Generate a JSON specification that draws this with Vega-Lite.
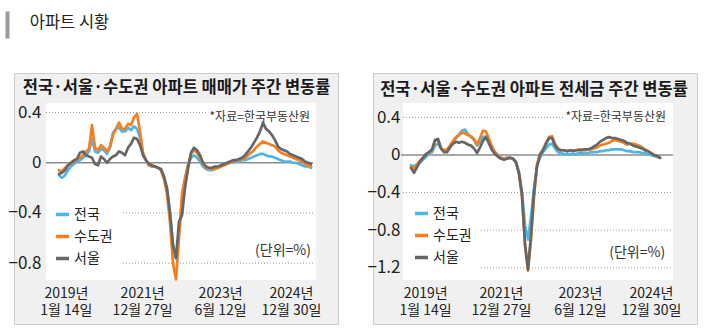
{
  "$schema": "https://vega.github.io/schema/vega-lite/v6.json",
  "background": "white",
  "padding": {"left": 7, "top": 11, "right": 4, "bottom": 4},
  "bounds": "flush",
  "spacing": 35,
  "resolve": {"scale": {"x": "independent", "y": "independent", "color": "independent"}},
  "config": {"view": {"stroke": null}, "axis": {"grid": false, "ticks": false, "domain": false, "labelFont": "Liberation Sans Narrow, Noto Sans CJK KR", "labelColor": "#222222", "labelFlush": false, "labelOverlap": false}},
  "datasets": {
    "p1": [
      {"i":0,"전국":-0.10,"수도권":-0.06,"서울":-0.09},
      {"i":1,"전국":-0.12,"수도권":-0.07,"서울":-0.08},
      {"i":2,"전국":-0.10,"수도권":-0.04,"서울":-0.06},
      {"i":3,"전국":-0.06,"수도권":-0.02,"서울":-0.02},
      {"i":4,"전국":-0.03,"수도권":-0.01,"서울":0.00},
      {"i":5,"전국":-0.01,"수도권":0.01,"서울":0.02},
      {"i":6,"전국":0.01,"수도권":0.03,"서울":0.03},
      {"i":7,"전국":0.02,"수도권":0.04,"서울":0.08},
      {"i":8,"전국":0.04,"수도권":0.06,"서울":0.09},
      {"i":9,"전국":0.06,"수도권":0.09,"서울":0.06},
      {"i":10,"전국":0.09,"수도권":0.11,"서울":0.05},
      {"i":11,"전국":0.19,"수도권":0.30,"서울":0.04},
      {"i":12,"전국":0.09,"수도권":0.12,"서울":-0.01},
      {"i":13,"전국":0.08,"수도권":0.10,"서울":-0.02},
      {"i":14,"전국":0.11,"수도권":0.14,"서울":0.05},
      {"i":15,"전국":0.10,"수도권":0.12,"서울":0.03},
      {"i":16,"전국":0.07,"수도권":0.09,"서울":0.00},
      {"i":17,"전국":0.12,"수도권":0.13,"서울":0.03},
      {"i":18,"전국":0.24,"수도권":0.22,"서울":0.05},
      {"i":19,"전국":0.27,"수도권":0.27,"서울":0.06},
      {"i":20,"전국":0.28,"수도권":0.32,"서울":0.09},
      {"i":21,"전국":0.25,"수도권":0.27,"서울":0.08},
      {"i":22,"전국":0.25,"수도권":0.27,"서울":0.06},
      {"i":23,"전국":0.28,"수도권":0.31,"서울":0.12},
      {"i":24,"전국":0.26,"수도권":0.30,"서울":0.15},
      {"i":25,"전국":0.29,"수도권":0.36,"서울":0.20},
      {"i":26,"전국":0.27,"수도권":0.39,"서울":0.19},
      {"i":27,"전국":0.20,"수도권":0.25,"서울":0.14},
      {"i":28,"전국":0.07,"수도권":0.08,"서울":0.06},
      {"i":29,"전국":0.02,"수도권":0.02,"서울":0.02},
      {"i":30,"전국":-0.02,"수도권":-0.02,"서울":-0.01},
      {"i":31,"전국":-0.03,"수도권":-0.03,"서울":-0.02},
      {"i":32,"전국":-0.03,"수도권":-0.03,"서울":-0.03},
      {"i":33,"전국":-0.04,"수도권":-0.04,"서울":-0.04},
      {"i":34,"전국":-0.06,"수도권":-0.06,"서울":-0.05},
      {"i":35,"전국":-0.12,"수도권":-0.13,"서울":-0.11},
      {"i":36,"전국":-0.22,"수도권":-0.25,"서울":-0.20},
      {"i":37,"전국":-0.40,"수도권":-0.48,"서울":-0.40},
      {"i":38,"전국":-0.65,"수도권":-0.80,"서울":-0.66},
      {"i":39,"전국":-0.76,"수도권":-0.93,"서울":-0.76},
      {"i":40,"전국":-0.55,"수도권":-0.60,"서울":-0.47},
      {"i":41,"전국":-0.30,"수도권":-0.25,"서울":-0.42},
      {"i":42,"전국":-0.15,"수도권":-0.12,"서울":-0.20},
      {"i":43,"전국":-0.02,"수도권":-0.02,"서울":-0.05},
      {"i":44,"전국":0.04,"수도권":0.07,"서울":0.08},
      {"i":45,"전국":0.06,"수도권":0.10,"서울":0.12},
      {"i":46,"전국":0.04,"수도권":0.08,"서울":0.10},
      {"i":47,"전국":0.01,"수도권":0.04,"서울":0.06},
      {"i":48,"전국":-0.03,"수도권":-0.01,"서울":0.00},
      {"i":49,"전국":-0.05,"수도권":-0.04,"서울":-0.03},
      {"i":50,"전국":-0.06,"수도권":-0.05,"서울":-0.04},
      {"i":51,"전국":-0.06,"수도권":-0.05,"서울":-0.04},
      {"i":52,"전국":-0.05,"수도권":-0.05,"서울":-0.03},
      {"i":53,"전국":-0.04,"수도권":-0.04,"서울":-0.03},
      {"i":54,"전국":-0.03,"수도권":-0.03,"서울":-0.02},
      {"i":55,"전국":-0.02,"수도권":-0.02,"서울":-0.01},
      {"i":56,"전국":-0.01,"수도권":-0.01,"서울":0.00},
      {"i":57,"전국":0.00,"수도권":0.00,"서울":0.01},
      {"i":58,"전국":0.00,"수도권":0.01,"서울":0.02},
      {"i":59,"전국":0.01,"수도권":0.02,"서울":0.02},
      {"i":60,"전국":0.01,"수도권":0.02,"서울":0.03},
      {"i":61,"전국":0.02,"수도권":0.03,"서울":0.04},
      {"i":62,"전국":0.02,"수도권":0.04,"서울":0.06},
      {"i":63,"전국":0.03,"수도권":0.06,"서울":0.09},
      {"i":64,"전국":0.04,"수도권":0.08,"서울":0.12},
      {"i":65,"전국":0.05,"수도권":0.10,"서울":0.16},
      {"i":66,"전국":0.06,"수도권":0.13,"서울":0.20},
      {"i":67,"전국":0.07,"수도권":0.15,"서울":0.25},
      {"i":68,"전국":0.07,"수도권":0.17,"서울":0.32},
      {"i":69,"전국":0.06,"수도권":0.16,"서울":0.27},
      {"i":70,"전국":0.05,"수도권":0.15,"서울":0.25},
      {"i":71,"전국":0.05,"수도권":0.14,"서울":0.22},
      {"i":72,"전국":0.04,"수도권":0.13,"서울":0.18},
      {"i":73,"전국":0.03,"수도권":0.10,"서울":0.13},
      {"i":74,"전국":0.02,"수도권":0.08,"서울":0.11},
      {"i":75,"전국":0.01,"수도권":0.07,"서울":0.10},
      {"i":76,"전국":0.01,"수도권":0.06,"서울":0.09},
      {"i":77,"전국":0.01,"수도권":0.05,"서울":0.07},
      {"i":78,"전국":0.00,"수도권":0.04,"서울":0.06},
      {"i":79,"전국":0.00,"수도권":0.03,"서울":0.05},
      {"i":80,"전국":-0.01,"수도권":0.02,"서울":0.04},
      {"i":81,"전국":-0.02,"수도권":0.01,"서울":0.03},
      {"i":82,"전국":-0.03,"수도권":-0.01,"서울":0.01},
      {"i":83,"전국":-0.03,"수도권":-0.02,"서울":0.00},
      {"i":84,"전국":-0.04,"수도권":-0.03,"서울":-0.01}
    ],
    "p2": [
      {"i":0,"전국":-0.11,"수도권":-0.13,"서울":-0.14},
      {"i":1,"전국":-0.12,"수도권":-0.15,"서울":-0.19},
      {"i":2,"전국":-0.10,"수도권":-0.10,"서울":-0.13},
      {"i":3,"전국":-0.08,"수도권":-0.06,"서울":-0.07},
      {"i":4,"전국":-0.05,"수도권":-0.03,"서울":-0.03},
      {"i":5,"전국":-0.02,"수도권":0.01,"서울":0.01},
      {"i":6,"전국":0.02,"수도권":0.03,"서울":0.03},
      {"i":7,"전국":0.03,"수도권":0.05,"서울":0.06},
      {"i":8,"전국":0.10,"수도권":0.15,"서울":0.16},
      {"i":9,"전국":0.12,"수도권":0.16,"서울":0.17},
      {"i":10,"전국":0.07,"수도권":0.07,"서울":0.07},
      {"i":11,"전국":0.04,"수도권":0.05,"서울":0.03},
      {"i":12,"전국":0.05,"수도권":0.06,"서울":0.03},
      {"i":13,"전국":0.09,"수도권":0.10,"서울":0.08},
      {"i":14,"전국":0.14,"수도권":0.15,"서울":0.12},
      {"i":15,"전국":0.18,"수도권":0.19,"서울":0.14},
      {"i":16,"전국":0.22,"수도권":0.21,"서울":0.13},
      {"i":17,"전국":0.26,"수도권":0.24,"서울":0.14},
      {"i":18,"전국":0.27,"수도권":0.23,"서울":0.13},
      {"i":19,"전국":0.22,"수도권":0.21,"서울":0.11},
      {"i":20,"전국":0.19,"수도권":0.20,"서울":0.10},
      {"i":21,"전국":0.16,"수도권":0.17,"서울":0.07},
      {"i":22,"전국":0.10,"수도권":0.11,"서울":0.02},
      {"i":23,"전국":0.14,"수도권":0.18,"서울":0.08},
      {"i":24,"전국":0.19,"수도권":0.26,"서울":0.15},
      {"i":25,"전국":0.20,"수도권":0.25,"서울":0.19},
      {"i":26,"전국":0.14,"수도권":0.17,"서울":0.12},
      {"i":27,"전국":0.08,"수도권":0.09,"서울":0.05},
      {"i":28,"전국":0.03,"수도권":0.03,"서울":0.01},
      {"i":29,"전국":0.00,"수도권":-0.01,"서울":-0.02},
      {"i":30,"전국":-0.03,"수도권":-0.03,"서울":-0.04},
      {"i":31,"전국":-0.04,"수도권":-0.04,"서울":-0.05},
      {"i":32,"전국":-0.03,"수도권":-0.03,"서울":-0.04},
      {"i":33,"전국":-0.03,"수도권":-0.03,"서울":-0.03},
      {"i":34,"전국":-0.04,"수도권":-0.04,"서울":-0.04},
      {"i":35,"전국":-0.07,"수도권":-0.08,"서울":-0.08},
      {"i":36,"전국":-0.18,"수도권":-0.20,"서울":-0.20},
      {"i":37,"전국":-0.40,"수도권":-0.45,"서울":-0.42},
      {"i":38,"전국":-0.75,"수도권":-0.95,"서울":-0.95},
      {"i":39,"전국":-0.90,"수도권":-1.23,"서울":-1.22},
      {"i":40,"전국":-0.65,"수도권":-0.90,"서울":-0.85},
      {"i":41,"전국":-0.35,"수도권":-0.45,"서울":-0.40},
      {"i":42,"전국":-0.12,"수도권":-0.10,"서울":-0.12},
      {"i":43,"전국":-0.03,"수도권":0.01,"서울":0.00},
      {"i":44,"전국":0.03,"수도권":0.06,"서울":0.05},
      {"i":45,"전국":0.07,"수도권":0.13,"서울":0.12},
      {"i":46,"전국":0.11,"수도권":0.19,"서울":0.18},
      {"i":47,"전국":0.12,"수도권":0.20,"서울":0.18},
      {"i":48,"전국":0.07,"수도권":0.12,"서울":0.10},
      {"i":49,"전국":0.03,"수도권":0.07,"서울":0.06},
      {"i":50,"전국":0.02,"수도권":0.05,"서울":0.05},
      {"i":51,"전국":0.01,"수도권":0.05,"서울":0.05},
      {"i":52,"전국":0.01,"수도권":0.04,"서울":0.04},
      {"i":53,"전국":0.01,"수도권":0.05,"서울":0.05},
      {"i":54,"전국":0.01,"수도권":0.05,"서울":0.04},
      {"i":55,"전국":0.01,"수도권":0.05,"서울":0.05},
      {"i":56,"전국":0.02,"수도권":0.06,"서울":0.05},
      {"i":57,"전국":0.02,"수도권":0.06,"서울":0.05},
      {"i":58,"전국":0.02,"수도권":0.05,"서울":0.06},
      {"i":59,"전국":0.02,"수도권":0.06,"서울":0.06},
      {"i":60,"전국":0.03,"수도권":0.06,"서울":0.07},
      {"i":61,"전국":0.03,"수도권":0.07,"서울":0.09},
      {"i":62,"전국":0.03,"수도권":0.08,"서울":0.11},
      {"i":63,"전국":0.04,"수도권":0.10,"서울":0.14},
      {"i":64,"전국":0.04,"수도권":0.11,"서울":0.16},
      {"i":65,"전국":0.05,"수도권":0.12,"서울":0.18},
      {"i":66,"전국":0.05,"수도권":0.13,"서울":0.19},
      {"i":67,"전국":0.06,"수도권":0.15,"서울":0.18},
      {"i":68,"전국":0.06,"수도권":0.16,"서울":0.18},
      {"i":69,"전국":0.06,"수도권":0.15,"서울":0.17},
      {"i":70,"전국":0.06,"수도권":0.14,"서울":0.16},
      {"i":71,"전국":0.05,"수도권":0.13,"서울":0.15},
      {"i":72,"전국":0.04,"수도권":0.11,"서울":0.13},
      {"i":73,"전국":0.04,"수도권":0.12,"서울":0.12},
      {"i":74,"전국":0.03,"수도권":0.12,"서울":0.10},
      {"i":75,"전국":0.03,"수도권":0.11,"서울":0.09},
      {"i":76,"전국":0.03,"수도권":0.10,"서울":0.08},
      {"i":77,"전국":0.02,"수도권":0.08,"서울":0.07},
      {"i":78,"전국":0.02,"수도권":0.06,"서울":0.05},
      {"i":79,"전국":0.01,"수도권":0.04,"서울":0.04},
      {"i":80,"전국":0.00,"수도권":0.02,"서울":0.02},
      {"i":81,"전국":-0.01,"수도권":0.00,"서울":0.00},
      {"i":82,"전국":-0.02,"수도권":-0.01,"서울":-0.01},
      {"i":83,"전국":-0.03,"수도권":-0.03,"서울":-0.03}
    ]
  },
  "vconcat": [
    {
      "width": 31.4,
      "height": 27,
      "view": {"stroke": null},
      "data": {"values": [{"t": "아파트 시황"}]},
      "mark": {"type": "text", "align": "left", "baseline": "middle", "font": "Noto Sans CJK KR", "fontSize": 16.5, "color": "#222222", "dy": -2},
      "encoding": {
        "y": {"field": "t", "type": "nominal", "axis": {"domain": true, "domainColor": "#9a9a9a", "domainWidth": 4, "labels": false, "ticks": false, "grid": false, "title": null, "offset": 7}},
        "text": {"field": "t"}
      }
    },
    {
      "hconcat": [
        {
          "width": 324,
          "height": 251,
          "view": {"fill": "#f0f0f0", "stroke": "#cccccc"},
          "data": {"values": [{}]},
          "layer": [
            {
              "mark": {"type": "rect", "color": "white"},
              "encoding": {
                "x": {"datum": -4.33, "type": "quantitative", "scale": {"domain": [-15, 93], "nice": false, "zero": false}, "axis": {"orient": "bottom", "offset": -39, "values": [2.3, 27.7, 53.7, 77.3], "labelExpr": "datum.value < 10 ? ['2019년', '1월 14일'] : datum.value < 40 ? ['2021년', '12월 27일'] : datum.value < 65 ? ['2023년', '6월 12일'] : ['2024년', '12월 30일']", "labelPadding": 1, "labelFontSize": 14, "labelLineHeight": 17, "labelAlign": "center", "labelBaseline": "top", "title": null}},
                "x2": {"datum": 85.67},
                "y": {"datum": -0.935, "type": "quantitative", "scale": {"domain": [-1.285, 0.715], "nice": false, "zero": false}, "axis": {"orient": "left", "offset": -29, "values": [0.4, 0, -0.4, -0.8], "labelExpr": "datum.value == 0 ? '0' : format(datum.value, '.1f')", "labelPadding": 2, "labelFontSize": 17, "title": null}},
                "y2": {"datum": 0.476}
              }
            },
            {
              "mark": {"type": "rule", "color": "#999999", "strokeDash": [1, 2], "strokeWidth": 1},
              "encoding": {"x": {"datum": -4.33, "type": "quantitative"}, "x2": {"datum": 49.7}, "y": {"datum": 0.4, "type": "quantitative"}}
            },
            {
              "data": {"values": [{"v": -0.4}, {"v": -0.8}]},
              "mark": {"type": "rule", "color": "#999999", "strokeDash": [1, 2], "strokeWidth": 1},
              "encoding": {"x": {"datum": 21.33, "type": "quantitative"}, "x2": {"datum": 84.67}, "y": {"field": "v", "type": "quantitative", "title": null}}
            },
            {
              "mark": {"type": "rule", "color": "#8c8c8c", "strokeWidth": 1.5},
              "encoding": {"x": {"datum": -4.33, "type": "quantitative"}, "x2": {"datum": 84.67}, "y": {"datum": 0, "type": "quantitative"}}
            },
            {
              "data": {"name": "p1"},
              "transform": [{"fold": ["전국", "수도권", "서울"], "as": ["지역", "변동률"]}],
              "mark": {"type": "line", "strokeWidth": 2.7, "strokeJoin": "round", "strokeCap": "round"},
              "encoding": {
                "x": {"field": "i", "type": "quantitative", "title": null},
                "y": {"field": "변동률", "type": "quantitative", "title": null},
                "color": {"field": "지역", "type": "nominal", "scale": {"domain": ["전국", "수도권", "서울"], "range": ["#4db6e8", "#f47f20", "#666666"]}, "legend": {"orient": "none", "legendX": 40, "legendY": 133, "title": null, "symbolType": "stroke", "symbolSize": 169, "symbolStrokeWidth": 3.5, "labelFont": "Noto Sans CJK KR", "labelFontSize": 14, "labelColor": "#222222", "labelOffset": 3, "rowPadding": 6, "padding": 0}}
              }
            },
            {
              "mark": {"type": "text", "text": "전국·서울·수도권 아파트 매매가 주간 변동률", "font": "Noto Sans CJK KR", "fontSize": 16.5, "fontWeight": "bold", "color": "#1a1a1a", "align": "center", "baseline": "middle"},
              "encoding": {"x": {"datum": 39.2, "type": "quantitative"}, "y": {"datum": 0.595, "type": "quantitative"}}
            },
            {
              "mark": {"type": "text", "text": "*자료=한국부동산원", "font": "Noto Sans CJK KR", "fontSize": 12, "color": "#333333", "align": "right", "baseline": "middle"},
              "encoding": {"x": {"datum": 83.7, "type": "quantitative"}, "y": {"datum": 0.367, "type": "quantitative"}}
            },
            {
              "mark": {"type": "text", "text": "(단위=%)", "font": "Noto Sans CJK KR", "fontSize": 14, "color": "#333333", "align": "right", "baseline": "middle"},
              "encoding": {"x": {"datum": 84, "type": "quantitative"}, "y": {"datum": -0.704, "type": "quantitative"}}
            }
          ]
        },
        {
          "width": 324,
          "height": 251,
          "view": {"fill": "#f0f0f0", "stroke": "#cccccc"},
          "data": {"values": [{}]},
          "layer": [
            {
              "mark": {"type": "rect", "color": "white"},
              "encoding": {
                "x": {"datum": -2.67, "type": "quantitative", "scale": {"domain": [-12.67, 95.33], "nice": false, "zero": false}, "axis": {"orient": "bottom", "offset": -39, "values": [4.7, 30, 56.3, 80], "labelExpr": "datum.value < 15 ? ['2019년', '1월 14일'] : datum.value < 45 ? ['2021년', '12월 27일'] : datum.value < 70 ? ['2023년', '6월 12일'] : ['2024년', '12월 30일']", "labelPadding": 1, "labelFontSize": 14, "labelLineHeight": 17, "labelAlign": "center", "labelBaseline": "top", "title": null}},
                "x2": {"datum": 87.33},
                "y": {"datum": -1.33, "type": "quantitative", "scale": {"domain": [-1.798, 0.872], "nice": false, "zero": false}, "axis": {"orient": "left", "offset": -29, "values": [0.4, 0, -0.4, -0.8, -1.2], "labelExpr": "datum.value == 0 ? '0' : format(datum.value, '.1f')", "labelPadding": 2, "labelFontSize": 17, "title": null}},
                "y2": {"datum": 0.553}
              }
            },
            {
              "mark": {"type": "rule", "color": "#999999", "strokeDash": [1, 2], "strokeWidth": 1},
              "encoding": {"x": {"datum": -2.67, "type": "quantitative"}, "x2": {"datum": 51}, "y": {"datum": 0.4, "type": "quantitative"}}
            },
            {
              "mark": {"type": "rule", "color": "#999999", "strokeDash": [1, 2], "strokeWidth": 1},
              "encoding": {"x": {"datum": -2.67, "type": "quantitative"}, "x2": {"datum": 87.3}, "y": {"datum": -0.4, "type": "quantitative"}}
            },
            {
              "data": {"values": [{"v": -0.8}, {"v": -1.2}]},
              "mark": {"type": "rule", "color": "#999999", "strokeDash": [1, 2], "strokeWidth": 1},
              "encoding": {"x": {"datum": 23.3, "type": "quantitative"}, "x2": {"datum": 87}, "y": {"field": "v", "type": "quantitative", "title": null}}
            },
            {
              "mark": {"type": "rule", "color": "#8c8c8c", "strokeWidth": 1.5},
              "encoding": {"x": {"datum": -3.33, "type": "quantitative"}, "x2": {"datum": 87.3}, "y": {"datum": 0, "type": "quantitative"}}
            },
            {
              "data": {"name": "p2"},
              "transform": [{"fold": ["전국", "수도권", "서울"], "as": ["지역", "변동률"]}],
              "mark": {"type": "line", "strokeWidth": 2.7, "strokeJoin": "round", "strokeCap": "round"},
              "encoding": {
                "x": {"field": "i", "type": "quantitative", "title": null},
                "y": {"field": "변동률", "type": "quantitative", "title": null},
                "color": {"field": "지역", "type": "nominal", "scale": {"domain": ["전국", "수도권", "서울"], "range": ["#4db6e8", "#f47f20", "#666666"]}, "legend": {"orient": "none", "legendX": 40, "legendY": 132, "title": null, "symbolType": "stroke", "symbolSize": 169, "symbolStrokeWidth": 3.5, "labelFont": "Noto Sans CJK KR", "labelFontSize": 14, "labelColor": "#222222", "labelOffset": 3, "rowPadding": 6, "padding": 0}}
              }
            },
            {
              "mark": {"type": "text", "text": "전국·서울·수도권 아파트 전세금 주간 변동률", "font": "Noto Sans CJK KR", "fontSize": 16.5, "fontWeight": "bold", "color": "#1a1a1a", "align": "center", "baseline": "middle"},
              "encoding": {"x": {"datum": 41, "type": "quantitative"}, "y": {"datum": 0.69, "type": "quantitative"}}
            },
            {
              "mark": {"type": "text", "text": "*자료=한국부동산원", "font": "Noto Sans CJK KR", "fontSize": 12, "color": "#333333", "align": "right", "baseline": "middle"},
              "encoding": {"x": {"datum": 85, "type": "quantitative"}, "y": {"datum": 0.40, "type": "quantitative"}}
            },
            {
              "mark": {"type": "text", "text": "(단위=%)", "font": "Noto Sans CJK KR", "fontSize": 14, "color": "#333333", "align": "right", "baseline": "middle"},
              "encoding": {"x": {"datum": 84.7, "type": "quantitative"}, "y": {"datum": -1.04, "type": "quantitative"}}
            }
          ]
        }
      ],
      "spacing": 35,
      "bounds": "flush",
      "resolve": {"scale": {"x": "independent", "y": "independent", "color": "independent"}, "legend": {"color": "independent"}}
    }
  ]
}
